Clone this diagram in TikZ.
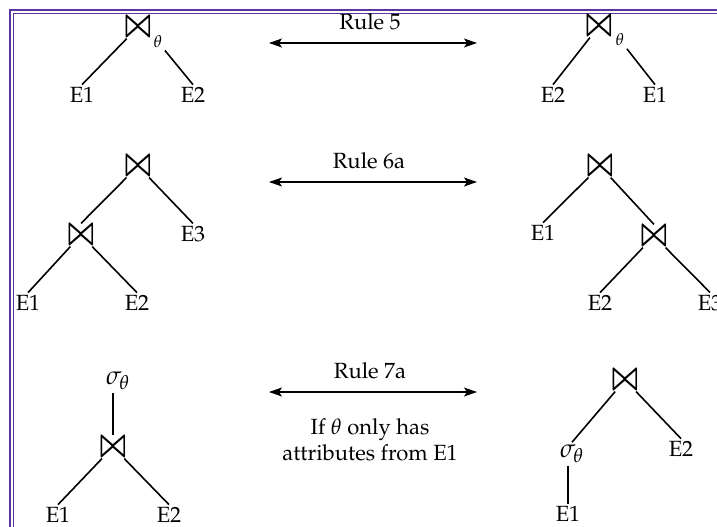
\documentclass[tikz,border=0pt]{standalone}
\usepackage[T1]{fontenc}
\usepackage{mathpazo}
\usepackage{graphicx}
\usetikzlibrary{arrows.meta}
\usetikzlibrary{positioning}

\definecolor{framepurple}{RGB}{92,52,156}
\newcommand{\joinsym}{\scalebox{1.15}[1.75]{\boldmath$\bowtie$}}

\begin{document}
\begin{tikzpicture}[
		x=1pt, y=-1pt,
		on grid,
		font=\fontsize{22}{26}\selectfont,
		every node/.style={inner sep=2.5pt},
		joinop/.style={inner sep=2pt},
		subtheta/.style={font=\fontsize{17}{20}\selectfont},
		selop/.style={font=\fontsize{26}{30}\selectfont},
		branch/.style={line width=1.6pt},
		rulearrow/.style={line width=1.4pt, {Stealth[length=13pt,width=9pt,inset=3pt]}-{Stealth[length=13pt,width=9pt,inset=3pt]}},
	]
		\useasboundingbox (0,0) rectangle (717,527);
		\draw[framepurple, line width=1.6pt, double=white, double distance=2.1pt] (11.6,11.6) rectangle (740,550);

		% rule 5
		\begin{scope}
			\node (j5a) [joinop] at (138,27) {\joinsym};
			\node (t5a) [subtheta, below right=15pt and 20pt of j5a] {$\theta$};
			\node (e1a) [below left=68pt and 56pt of j5a] {E1};
			\node (e2a) [below right=68pt and 55pt of j5a] {E2};

			\node (j5b) [joinop] at (599,26) {\joinsym};
			\node (t5b) [subtheta, below right=14pt and 21pt of j5b] {$\theta$};
			\node (e2b) [below left=69pt and 46pt of j5b] {E2};
			\node (e1b) [below right=69pt and 56pt of j5b] {E1};

			\node (r5) at (370,22) {Rule 5};
			\coordinate (r5l) at (269,43);
			\coordinate (r5r) at (477,43);

			\draw[branch] (j5a) -- (e1a.north);
			\draw[branch] (t5a) -- (e2a.north);
			\draw[branch] (j5b) -- (e2b.north);
			\draw[branch] (t5b) -- (e1b.north);
			\draw[rulearrow] (r5l) -- (r5r);
		\end{scope}

		% rule 6a
		\begin{scope}
			\node (j6a) [joinop] at (138,166) {\joinsym};
			\node (j6b) [joinop, below left=69pt and 57pt of j6a] {\joinsym};
			\node (e3a) [below right=68pt and 55pt of j6a] {E3};
			\node (e1c) [below left=68pt and 53pt of j6b] {E1};
			\node (e2c) [below right=68pt and 56pt of j6b] {E2};

			\node (j6c) [joinop] at (600,166) {\joinsym};
			\node (e1d) [below left=67pt and 57pt of j6c] {E1};
			\node (j6d) [joinop, below right=70pt and 54pt of j6c] {\joinsym};
			\node (e2d) [below left=67pt and 54pt of j6d] {E2};
			\node (e3b) [below right=67pt and 56pt of j6d] {E3};

			\node (r6) at (369,161) {Rule 6a};
			\coordinate (r6l) at (269,182);
			\coordinate (r6r) at (477,182);

			\draw[branch] (j6a) -- (j6b.north);
			\draw[branch] (j6a) -- (e3a.north);
			\draw[branch] (j6b) -- (e1c.north);
			\draw[branch] (j6b) -- (e2c.north);
			\draw[branch] (j6c) -- (e1d.north);
			\draw[branch] (j6c) -- (j6d.north);
			\draw[branch] (j6d) -- (e2d.north);
			\draw[branch] (j6d) -- (e3b.north);
			\draw[rulearrow] (r6l) -- (r6r);
		\end{scope}

		% rule 7a
		\begin{scope}
			\node (s7a) [selop] at (118,381) {$\sigma_\theta$};
			\node (j7a) [joinop] at (113,447) {\joinsym};
			\node (e1e) [below left=68pt and 55pt of j7a] {E1};
			\node (e2e) [below right=68pt and 56pt of j7a] {E2};

			\node (j7b) [joinop] at (625,380) {\joinsym};
			\node (s7b) [selop, below left=74pt and 53pt of j7b] {$\sigma_\theta$};
			\node (e2f) [below right=69pt and 56pt of j7b] {E2};
			\node (e1f) [below left=134pt and 57pt of j7b] {E1};

			\node (r7) at (370,371) {Rule 7a};
			\node (cond) [align=center] at (370,440) {If $\theta$ only has\\attributes from E1};
			\coordinate (r7l) at (269,392);
			\coordinate (r7r) at (477,392);

			\draw[branch] (s7a.south -| j7a) -- (j7a);
			\draw[branch] (j7a) -- (e1e.north);
			\draw[branch] (j7a) -- (e2e.north);
			\draw[branch] (j7b) -- (s7b.north);
			\draw[branch] (j7b) -- (e2f.north);
			\draw[branch] (s7b.south -| e1f) -- (e1f.north);
			\draw[rulearrow] (r7l) -- (r7r);
		\end{scope}
	\end{tikzpicture}
\end{document}
